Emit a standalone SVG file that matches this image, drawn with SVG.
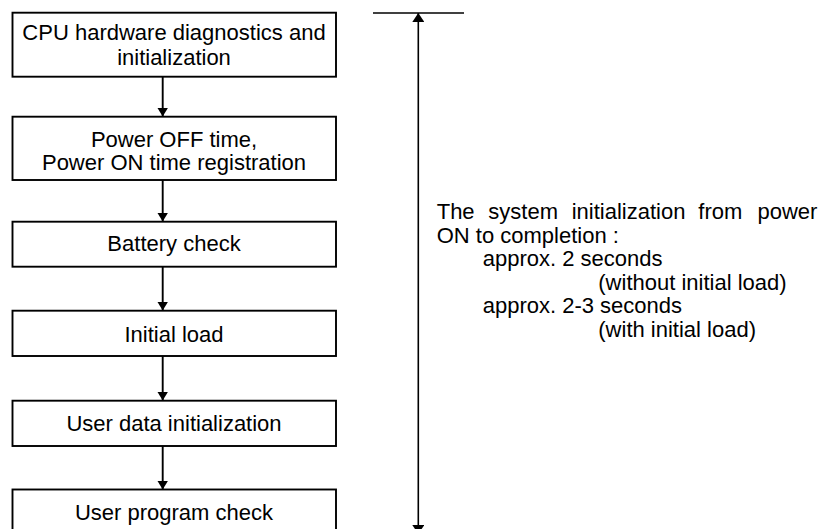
<svg xmlns="http://www.w3.org/2000/svg" width="823" height="529" viewBox="0 0 823 529">
<style>
.box{fill:#fff;stroke:#000;stroke-width:1.9}
.t{font-family:"Liberation Sans",Arial,sans-serif;font-size:22px;fill:#000}
.c{text-anchor:middle}
.con{stroke:#000;stroke-width:1.9;fill:none}
.dim{stroke:#000;stroke-width:1.6;fill:none}
</style>
<defs>
<marker id="ah" viewBox="0 0 9 11" refX="9" refY="5.5" markerWidth="9" markerHeight="11" orient="auto" markerUnits="userSpaceOnUse">
<path d="M0,0 L9,5.5 L0,11 z" fill="#000"/>
</marker>
<marker id="ah2" viewBox="0 0 9 12" refX="9" refY="6" markerWidth="9" markerHeight="12" orient="auto-start-reverse" markerUnits="userSpaceOnUse">
<path d="M0,0 L9,6 L0,12 z" fill="#000"/>
</marker>
</defs>
<g id="connectors">
<line class="con" x1="162.7" y1="77" x2="162.7" y2="116.5" marker-end="url(#ah)"/>
<line class="con" x1="162.7" y1="180" x2="162.7" y2="221.5" marker-end="url(#ah)"/>
<line class="con" x1="162.7" y1="267" x2="162.7" y2="310.5" marker-end="url(#ah)"/>
<line class="con" x1="162.7" y1="356" x2="162.7" y2="400.5" marker-end="url(#ah)"/>
<line class="con" x1="162.7" y1="446" x2="162.7" y2="489.5" marker-end="url(#ah)"/>
</g>
<g id="n1">
<rect class="box" x="12.5" y="12.7" width="323.5" height="64"/>
<text class="t c" x="174" y="39.5">CPU hardware diagnostics and</text>
<text class="t c" x="174" y="64.5">initialization</text>
</g>
<g id="n2">
<rect class="box" x="12.5" y="116.7" width="323.5" height="63.3"/>
<text class="t c" x="174" y="146.5">Power OFF time,</text>
<text class="t c" x="174" y="170">Power ON time registration</text>
</g>
<g id="n3">
<rect class="box" x="12.5" y="221.7" width="323.5" height="45"/>
<text class="t c" x="174" y="251">Battery check</text>
</g>
<g id="n4">
<rect class="box" x="12.5" y="310.7" width="323.5" height="45.3"/>
<text class="t c" x="174" y="341.5">Initial load</text>
</g>
<g id="n5">
<rect class="box" x="12.5" y="400.7" width="323.5" height="45.3"/>
<text class="t c" x="174" y="430.7">User data initialization</text>
</g>
<g id="n6">
<rect class="box" x="12.5" y="489.5" width="323.5" height="60"/>
<text class="t c" x="174" y="520">User program check</text>
</g>
<g id="dimension">
<line class="dim" x1="373" y1="13" x2="464" y2="13"/>
<line class="dim" x1="418.3" y1="13" x2="418.3" y2="534" marker-start="url(#ah2)" marker-end="url(#ah2)"/>
</g>
<g id="note">
<text class="t"><tspan x="436.7" y="219">The</tspan><tspan x="488.3" y="219">system</tspan><tspan x="571.7" y="219">initialization</tspan><tspan x="698.3" y="219">from</tspan><tspan x="757.5" y="219">power</tspan></text>
<text class="t" x="436.7" y="242.6">ON to completion :</text>
<text class="t" x="482.7" y="266.2">approx. 2 seconds</text>
<text class="t" x="598.3" y="289.8">(without initial load)</text>
<text class="t" x="482.7" y="313.4">approx. 2-3 seconds</text>
<text class="t" x="598.3" y="337">(with initial load)</text>
</g>
</svg>
